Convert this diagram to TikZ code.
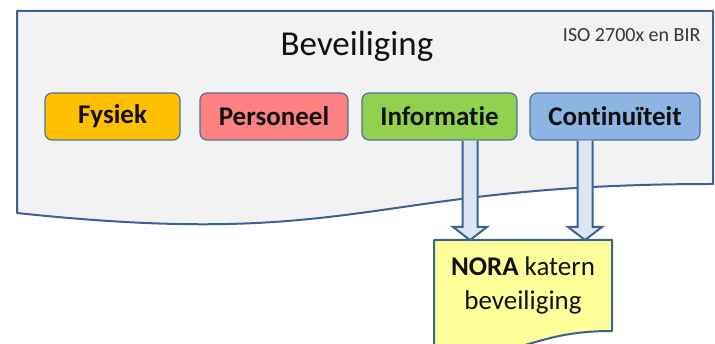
\documentclass[tikz,border=0pt]{standalone}
\usepackage{fontspec}
\setmainfont{Carlito}[RawFeature={-liga;-clig}]
\usetikzlibrary{calc}
\definecolor{docfill}{HTML}{F2F2F2}
\definecolor{docline}{HTML}{3B6293}
\definecolor{boxline}{HTML}{4A73A0}
\definecolor{cfys}{HTML}{FFC000}
\definecolor{cpers}{HTML}{FF8080}
\definecolor{cinfo}{HTML}{92D050}
\definecolor{ccont}{HTML}{8EB4E3}
\definecolor{noraf}{HTML}{FFFF99}
\definecolor{arrowf}{HTML}{DCE6F2}
\definecolor{txt}{HTML}{111111}
\tikzset{
  docshape/.style={draw=docline, line width=2pt, line join=round},
  catbox/.style={draw=boxline, line width=1.2pt, rounded corners=7pt, minimum height=47pt, text=txt, font=\fontsize{27}{30}\selectfont\bfseries, inner sep=0pt},
  blockarrow/.style={draw=docline, fill=arrowf, line width=2pt, line join=miter},
}
\begin{document}
\begin{tikzpicture}[x=1pt,y=-1pt]
\useasboundingbox (0,0) rectangle (715,344);
% main document shape
\draw[docshape, fill=docfill] (17,11) -- (713,11) -- (713,184) .. controls (365,184) and (365,250) .. (17,213) -- cycle;
\node[text=txt, font=\fontsize{35}{40}\selectfont] (title) at (357,46) {Beveiliging};
\node[text=txt!85, font=\fontsize{20}{24}\selectfont, anchor=east] (iso) at (704,35) {ISO 2700x en BIR};
% category boxes
\node[catbox, fill=cfys, minimum width=135pt] (fys) at (112.5,116.5) {\raisebox{-1.5pt}{Fysiek}};
\node[catbox, fill=cpers, minimum width=148pt] (pers) at (274,116.5) {\raisebox{-1.5pt}{Personeel}};
\node[catbox, fill=cinfo, minimum width=155pt] (info) at (439.5,116.5) {\raisebox{-1.5pt}{Informatie}};
\node[catbox, fill=ccont, minimum width=170pt] (cont) at (615,116.5) {\raisebox{-1.5pt}{Continuïteit}};
% NORA document
\draw[docshape, fill=noraf] (434,240) -- (612,240) -- (612,331) .. controls (523,331) and (523,365) .. (434,345.6) -- cycle;
\node[text=txt, font=\fontsize{27}{34}\selectfont, align=center] (nora) at (523,285) {\textbf{NORA} katern\\beveiliging};
\coordinate (t1) at (470,240);
\coordinate (t2) at (585,240);
\coordinate (s1) at ($(info.south)+(30.5,0)$);
\coordinate (s2) at ($(cont.south)+(-30,0)$);
% block arrows
\foreach \s/\t in {s1/t1, s2/t2}{
  \draw[blockarrow] ($(\s)+(-7.5,0)$) -- ($(\t)+(-7.5,-13)$) -- ($(\t)+(-17,-13)$) -- (\t) -- ($(\t)+(17,-13)$) -- ($(\t)+(7.5,-13)$) -- ($(\s)+(7.5,0)$);
}
\end{tikzpicture}
\end{document}
